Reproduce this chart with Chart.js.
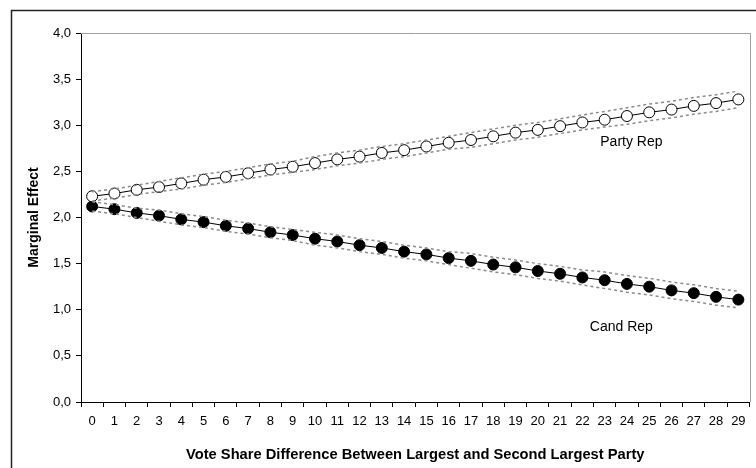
<!DOCTYPE html>
<html>
<head>
<meta charset="utf-8">
<script src="https://cdn.jsdelivr.net/npm/chart.js@4"></script>
<style>
  html, body { margin: 0; padding: 0; background: #fff; }
  #wrap { width: 756px; height: 468px; position: relative; }
</style>
</head>
<body>
<div id="wrap"><canvas id="chart"></canvas></div>
<script>
// ── Data ─────────────────────────────────────────────
const labels = Array.from({ length: 30 }, (_, i) => String(i));

const partyRep      = [2.23, 2.26, 2.30, 2.33, 2.37, 2.41, 2.44, 2.48, 2.52, 2.55, 2.59, 2.63, 2.66, 2.70, 2.73, 2.77, 2.81, 2.84, 2.88, 2.92, 2.95, 2.99, 3.03, 3.06, 3.10, 3.14, 3.17, 3.21, 3.24, 3.28];
const partyRepHigh  = [2.28, 2.31, 2.35, 2.39, 2.43, 2.47, 2.50, 2.54, 2.58, 2.61, 2.66, 2.70, 2.73, 2.77, 2.80, 2.84, 2.88, 2.92, 2.96, 3.00, 3.03, 3.07, 3.11, 3.15, 3.19, 3.23, 3.26, 3.30, 3.33, 3.37];
const partyRepLow   = [2.18, 2.21, 2.25, 2.28, 2.31, 2.35, 2.38, 2.42, 2.46, 2.49, 2.52, 2.56, 2.59, 2.63, 2.66, 2.70, 2.74, 2.76, 2.80, 2.84, 2.87, 2.91, 2.95, 2.98, 3.01, 3.05, 3.08, 3.12, 3.15, 3.19];

const candRep       = [2.12, 2.09, 2.05, 2.02, 1.98, 1.95, 1.91, 1.88, 1.84, 1.81, 1.77, 1.74, 1.70, 1.67, 1.63, 1.60, 1.56, 1.53, 1.49, 1.46, 1.42, 1.39, 1.35, 1.32, 1.28, 1.25, 1.21, 1.18, 1.14, 1.11];
const candRepHigh   = [2.17, 2.14, 2.10, 2.08, 2.04, 2.01, 1.97, 1.94, 1.90, 1.87, 1.84, 1.81, 1.77, 1.74, 1.70, 1.67, 1.63, 1.61, 1.57, 1.54, 1.50, 1.47, 1.43, 1.41, 1.37, 1.34, 1.30, 1.27, 1.23, 1.20];
const candRepLow    = [2.07, 2.04, 2.00, 1.96, 1.92, 1.89, 1.85, 1.82, 1.78, 1.75, 1.70, 1.67, 1.63, 1.60, 1.56, 1.53, 1.49, 1.45, 1.41, 1.38, 1.34, 1.31, 1.27, 1.23, 1.19, 1.16, 1.12, 1.09, 1.05, 1.02];

// series labels placed in data units
const seriesNotes = [
  { text: 'Party Rep', x: 24.2, y: 2.82 },
  { text: 'Cand Rep',  x: 23.75, y: 0.81 }
];

const FONT = '"Liberation Sans", Arial, sans-serif';

// ── Frame + notes plugin ─────────────────────────────
const framePlugin = {
  id: 'frame',
  afterDraw(chart) {
    const { ctx, chartArea: a, scales } = chart;
    ctx.save();
    // plot area border (grey top/right)
    ctx.strokeStyle = '#a0a0a0';
    ctx.lineWidth = 1;
    ctx.beginPath();
    ctx.moveTo(a.left, Math.round(a.top) + 0.5);
    ctx.lineTo(Math.round(a.right) + 0.5, Math.round(a.top) + 0.5);
    ctx.lineTo(Math.round(a.right) + 0.5, a.bottom);
    ctx.stroke();
    // outer chart border
    ctx.strokeStyle = '#222';
    ctx.lineWidth = 1.5;
    ctx.strokeRect(11.5, 10.5, 800, 500);
    // series notes
    ctx.fillStyle = '#000';
    ctx.font = '14px ' + FONT;
    ctx.textAlign = 'center';
    ctx.textBaseline = 'middle';
    seriesNotes.forEach(n => {
      ctx.fillText(n.text, scales.x.getPixelForValue(n.x), scales.y.getPixelForValue(n.y));
    });
    ctx.restore();
  }
};

const band = (data) => ({
  data, borderColor: '#8c8c8c', borderWidth: 1.5, borderDash: [3, 3],
  pointRadius: 0, fill: false, tension: 0
});

new Chart(document.getElementById('chart'), {
  type: 'line',
  data: {
    labels,
    datasets: [
      band(partyRepHigh), band(partyRepLow), band(candRepHigh), band(candRepLow),
      { label: 'Party Rep', data: partyRep, borderColor: '#000', borderWidth: 1, pointRadius: 5.5,
        pointBackgroundColor: '#fff', pointBorderColor: '#000', pointBorderWidth: 1, tension: 0 },
      { label: 'Cand Rep', data: candRep, borderColor: '#000', borderWidth: 1, pointRadius: 5.5,
        pointBackgroundColor: '#000', pointBorderColor: '#000', pointBorderWidth: 1, tension: 0 }
    ]
  },
  options: {
    responsive: true,
    maintainAspectRatio: false,
    animation: false,
    layout: { padding: { top: 33, right: 1, left: 11, bottom: 0 } },
    plugins: { legend: { display: false }, tooltip: { enabled: false } },
    scales: {
      x: {
        offset: true,
        grid: { offset: true, drawOnChartArea: false, drawTicks: true, tickLength: 5, color: '#000' },
        border: { color: '#000', width: 1 },
        ticks: { color: '#000', font: { family: FONT, size: 13 }, padding: 7, maxRotation: 0, autoSkip: false },
        title: { display: true, text: 'Vote Share Difference Between Largest and Second Largest Party',
                 color: '#000', font: { family: FONT, size: 14.7, weight: 'bold' }, padding: { top: 12 } },
        afterFit(s) { s.height = 66; s.paddingLeft = 0; s.paddingRight = 0; }
      },
      y: {
        min: 0, max: 4,
        grid: { drawOnChartArea: false, drawTicks: true, tickLength: 5, color: '#000' },
        border: { color: '#000', width: 1 },
        ticks: { stepSize: 0.5, color: '#000', font: { family: FONT, size: 13 }, padding: 5,
                 callback: v => v.toFixed(1).replace('.', ',') },
        title: { display: true, text: 'Marginal Effect', color: '#000',
                 font: { family: FONT, size: 14, weight: 'bold' }, padding: { top: 14.6, bottom: 4 } },
        afterFit(s) { s.width = 70; s.paddingTop = 0; s.paddingBottom = 0; }
      }
    }
  },
  plugins: [framePlugin]
});
</script>
</body>
</html>
